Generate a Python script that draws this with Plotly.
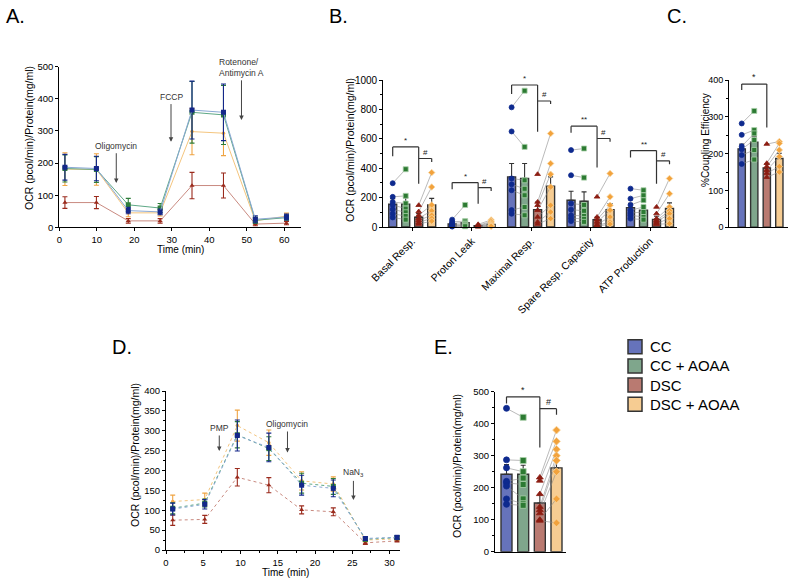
import plotly.graph_objects as go

W, H = 790, 580
FONT = "Liberation Sans, Arial, Helvetica, sans-serif"

# ---------------- shared styling ----------------
groups = ["CC", "CC + AOAA", "DSC", "DSC + AOAA"]
bar_fill = ["#6673BB", "#7FA68C", "#B97A71", "#F6CC92"]
point_fill = ["#0E2A8E", "#2C7A32", "#8C1D12", "#F2A23C"]
point_edge = ["#0E2A8E", "#A9D0AA", "#8C1D12", "#F8D59F"]
point_symbol = ["circle", "square", "triangle-up", "diamond"]
trace_line = ["#8AA8D4", "#5EA886", "#C98A80", "#F4C57E"]
err_color = ["#14278A", "#2E7D3A", "#9A2A1C", "#EFA443"]
ts_symbol = ["square", "square", "triangle-up", "circle"]
ts_size = [5, 5, 4.5, 3.5]

# ---------------- Panel A (time course) ----------------
a_time = [1.5, 9.9, 18.4, 26.9, 35.4, 43.8, 52.3, 60.6]
a_cc = [187, 183, 52, 48, 365, 358, 25, 32]
a_cc_err = [40, 38, 10, 9, 90, 88, 11, 9]
a_cca = [183, 180, 70, 60, 358, 350, 22, 30]
a_cca_err = [42, 40, 20, 14, 96, 92, 10, 8]
a_dsc = [77, 77, 20, 20, 130, 130, 10, 13]
a_dsc_err = [18, 19, 7, 7, 41, 39, 5, 5]
a_dsca = [181, 180, 45, 45, 298, 293, 20, 35]
a_dsca_err = [51, 49, 12, 10, 72, 70, 10, 9]

# ---------------- Panel B (respiration parameters) ----------------
b_categories = ["Basal Resp.", "Proton Leak", "Maximal Resp.", "Spare Resp. Capacity", "ATP Production"]
b_cc_mean = [155, 20, 341, 182, 132]
b_cca_mean = [155, 30, 330, 175, 114]
b_dsc_mean = [66, 9, 118, 50, 52]
b_dsca_mean = [150, 18, 277, 118, 127]
b_cc_sem = [38, 8, 91, 61, 30]
b_cca_sem = [45, 18, 102, 64, 34]
b_dsc_sem = [25, 3, 52, 18, 21]
b_dsca_sem = [45, 7, 64, 41, 37]
b_cc_pts = [[298, 205, 170, 150, 120, 90, 65],
            [50, 35, 25, 15, 8, 5, 3],
            [814, 650, 330, 290, 250, 115, 90],
            [523, 352, 160, 118, 80, 60, 40],
            [261, 193, 150, 114, 95, 80, 57]]
b_cca_pts = [[393, 212, 160, 125, 100, 75, 50],
             [150, 40, 30, 20, 12, 8, 5],
             [927, 545, 318, 260, 216, 136, 80],
             [534, 336, 150, 110, 75, 55, 35],
             [250, 215, 182, 136, 102, 68, 50]]
b_dsc_pts = [[148, 105, 80, 60, 45, 30, 20],
             [18, 10, 8, 5, 4, 3, 2],
             [359, 170, 148, 114, 68, 34, 20],
             [205, 68, 50, 34, 18, 10, 5],
             [136, 91, 57, 45, 34, 25, 18]]
b_dsca_pts = [[370, 272, 150, 110, 80, 60, 40],
              [48, 38, 28, 20, 12, 8, 5],
              [636, 432, 359, 272, 148, 102, 57],
              [364, 205, 148, 114, 68, 34, 20],
              [330, 227, 136, 110, 91, 57, 23]]
# significance brackets: (category, left bar, right bar, top, left end, right end, label)
b_brackets = [(0, 0, 2, 545, 482, 295, "*"), (0, 2, 3, 466, 466, 443, "#"),
              (1, 0, 2, 302, 257, 159, "*"), (1, 2, 3, 268, 268, 245, "#"),
              (2, 0, 2, 966, 905, 648, "*"), (2, 2, 3, 857, 857, 836, "#"),
              (3, 0, 2, 686, 641, 405, "**"), (3, 2, 3, 602, 602, 580, "#"),
              (4, 0, 2, 520, 473, 295, "**"), (4, 2, 3, 450, 450, 427, "#")]

# ---------------- Panel C (coupling efficiency) ----------------
c_mean = [213, 231, 161, 187]
c_sem = [13, 15, 11, 14]
c_cc_pts = [282, 251, 220, 212, 196, 172]
c_cca_pts = [316, 264, 255, 237, 210, 184]
c_dsc_pts = [226, 174, 165, 155, 147, 136]
c_dsca_pts = [233, 228, 210, 192, 165, 150]
c_brackets = [(0, 2, 389, 373, 271, "*")]

# ---------------- Panel D (time course) ----------------
d_time = [0.9, 5.2, 9.57, 13.8, 18.2, 22.45, 26.75, 31.0]
d_cc = [103, 115, 288, 258, 163, 155, 29, 32]
d_cc_err = [15, 12, 39, 36, 25, 21, 5, 4]
d_cca = [105, 118, 290, 255, 168, 160, 27, 31]
d_cca_err = [14, 10, 33, 30, 25, 20, 5, 4]
d_dsc = [75, 77, 183, 163, 101, 96, 18, 23]
d_dsc_err = [13, 10, 22, 19, 10, 10, 4, 3]
d_dsca = [122, 127, 313, 270, 174, 166, 25, 28]
d_dsca_err = [16, 16, 39, 32, 23, 18, 5, 4]

# ---------------- Panel E ----------------
e_mean = [242, 242, 152, 262]
e_sem = [30, 28, 25, 35]
e_cc_pts = [448, 287, 262, 220, 215, 205, 165, 148]
e_cca_pts = [420, 285, 250, 230, 210, 165, 150, 145]
e_dsc_pts = [232, 222, 180, 140, 130, 120, 100, 97]
e_dsca_pts = [380, 345, 320, 300, 285, 250, 165, 90]
e_brackets = [(0, 2, 484, 463, 326, "*"), (2, 3, 447, 447, 428, "#")]


def px(x):
    return x / W


def py(y):
    return 1 - y / H


fig = go.Figure()

# ---------- time-course panels ----------
def time_course(xa, ya, t, series, errs, dash):
    for k in [3, 2, 1, 0]:
        fig.add_trace(go.Scatter(
            x=t, y=series[k], xaxis=xa, yaxis=ya, mode="lines+markers",
            line=dict(color=trace_line[k], width=1, dash=dash),
            marker=dict(symbol=ts_symbol[k], size=ts_size[k], color=err_color[k]),
            error_y=dict(type="data", array=errs[k], color=err_color[k], thickness=1.1, width=2.5),
            showlegend=False, hoverinfo="skip"))


time_course("x", "y", a_time, [a_cc, a_cca, a_dsc, a_dsca],
            [a_cc_err, a_cca_err, a_dsc_err, a_dsca_err], "solid")
time_course("x4", "y4", d_time, [d_cc, d_cca, d_dsc, d_dsca],
            [d_cc_err, d_cca_err, d_dsc_err, d_dsca_err], "dot")

# ---------- bar panels ----------
def bar_panel(xa, ya, pos, ncat, width, means, sems, pts, msize):
    for k in range(4):
        fig.add_trace(go.Bar(
            x=[pos(i, k) for i in range(ncat)], y=means[k], width=width,
            xaxis=xa, yaxis=ya,
            marker=dict(color=bar_fill[k], line=dict(color="#333333", width=1.4)),
            error_y=dict(type="data", symmetric=False, array=sems[k],
                         arrayminus=[0] * ncat, color="#333333", thickness=1.1, width=2.5),
            showlegend=False, hoverinfo="skip"))
    for a, b in [(0, 1), (2, 3)]:
        xs, ys = [], []
        for i in range(ncat):
            for va, vb in zip(pts[a][i], pts[b][i]):
                xs += [pos(i, a), pos(i, b), None]
                ys += [va, vb, None]
        fig.add_trace(go.Scatter(x=xs, y=ys, xaxis=xa, yaxis=ya, mode="lines",
                                 line=dict(color="#8C8C8C", width=0.6),
                                 showlegend=False, hoverinfo="skip"))
    for k in range(4):
        xs, ys = [], []
        for i in range(ncat):
            xs += [pos(i, k)] * len(pts[k][i])
            ys += pts[k][i]
        fig.add_trace(go.Scatter(
            x=xs, y=ys, xaxis=xa, yaxis=ya, mode="markers",
            marker=dict(symbol=point_symbol[k], size=msize, color=point_fill[k],
                        line=dict(color=point_edge[k], width=0.8)),
            showlegend=False, hoverinfo="skip", cliponaxis=False))


B_OFF = 13 / 59.45
b_pos = lambda i, k: i + (k - 1.5) * B_OFF
single_pos = lambda i, k: k

bar_panel("x2", "y2", b_pos, 5, 0.1346,
          [b_cc_mean, b_cca_mean, b_dsc_mean, b_dsca_mean],
          [b_cc_sem, b_cca_sem, b_dsc_sem, b_dsca_sem],
          [b_cc_pts, b_cca_pts, b_dsc_pts, b_dsca_pts], 5)
bar_panel("x3", "y3", single_pos, 1, 0.58,
          [[v] for v in c_mean], [[v] for v in c_sem],
          [[c_cc_pts], [c_cca_pts], [c_dsc_pts], [c_dsca_pts]], 5)
bar_panel("x5", "y5", single_pos, 1, 0.66,
          [[v] for v in e_mean], [[v] for v in e_sem],
          [[e_cc_pts], [e_cca_pts], [e_dsc_pts], [e_dsca_pts]], 6)

shapes = []
annotations = []


def add_brackets(xr, yr, specs, pos, lab_size):
    for (cat, kl, kr, top, lend, rend, lab) in specs:
        xl, xr_ = pos(cat, kl), pos(cat, kr)
        line = dict(color="#333333", width=1.2)
        shapes.append(dict(type="line", xref=xr, yref=yr, x0=xl, x1=xr_, y0=top, y1=top, line=line))
        if lend != top:
            shapes.append(dict(type="line", xref=xr, yref=yr, x0=xl, x1=xl, y0=top, y1=lend, line=line))
        shapes.append(dict(type="line", xref=xr, yref=yr, x0=xr_, x1=xr_, y0=top, y1=rend, line=line))
        annotations.append(dict(x=(xl + xr_) / 2, y=top, xref=xr, yref=yr, text=lab,
                                showarrow=False, yanchor="bottom", yshift=0,
                                font=dict(size=lab_size, color="#222", family=FONT)))


add_brackets("x2", "y2", b_brackets, b_pos, 8)
add_brackets("x3", "y3", [(0,) + s for s in c_brackets], single_pos, 9)
add_brackets("x5", "y5", [(0,) + s for s in e_brackets], single_pos, 9)

# ---------- treatment labels with arrows ----------
def arrow_note(xr, yr, x, ytext, ytip, txt):
    annotations.append(dict(x=x, y=ytip, ax=x, ay=ytext, xref=xr, yref=yr, axref=xr, ayref=yr,
                            text=txt, showarrow=True, arrowhead=2, arrowsize=0.9,
                            arrowwidth=1, arrowcolor="#444444", borderpad=2, align="left",
                            font=dict(size=8.5, color="#333", family=FONT)))


arrow_note("x", "y", 15.2, 254, 138, "Oligomycin")
arrow_note("x", "y", 29.8, 407, 266, "FCCP")
arrow_note("x", "y", 48.6, 498, 334, "Rotenone/<br>Antimycin A")

arrow_note("x4", "y4", 7.15, 307, 249, "PMP")
arrow_note("x4", "y4", 16.3, 317, 245, "Oligomycin")
arrow_note("x4", "y4", 25.15, 194, 126, "NaN<sub>3</sub>")

# ---------- titles & panel letters ----------
def ptext(x, y, txt, size, angle=0):
    annotations.append(dict(x=px(x), y=py(y), xref="paper", yref="paper", text=txt,
                            showarrow=False, textangle=angle, xanchor="center", yanchor="middle",
                            font=dict(size=size, color="black", family=FONT)))


ocr = "OCR (pcol/min)/Protein(mg/ml)"
ptext(29, 138, ocr, 10.5, -90)
ptext(350, 150, ocr, 10.5, -90)
ptext(705, 140, "%Coupling Efficiency", 10, -90)
ptext(135, 455, ocr, 10.5, -90)
ptext(457, 466, ocr, 10.5, -90)
ptext(180, 250, "Time (min)", 10)
ptext(285, 572, "Time (min)", 10)
for lab, x, y in [("A.", 15, 16), ("B.", 338, 16), ("C.", 677, 16), ("D.", 122, 347), ("E.", 443, 347)]:
    ptext(x, y, lab, 20)

# ---------- legend (drawn) ----------
for k, name in enumerate(groups):
    yc = 346.7 + k * 19.2
    shapes.append(dict(type="rect", xref="paper", yref="paper",
                       x0=px(628), x1=px(642), y0=py(yc + 7), y1=py(yc - 7),
                       fillcolor=bar_fill[k], line=dict(color="#333333", width=1.5)))
    annotations.append(dict(x=px(648), y=py(yc), xref="paper", yref="paper", text=name,
                            showarrow=False, xanchor="left", yanchor="middle",
                            font=dict(size=15, color="black", family=FONT)))

# ---------- axes ----------
def ax(domain, rng, anchor, fs=9.5, **kw):
    d = dict(domain=domain, range=rng, anchor=anchor, showline=True, linecolor="black",
             linewidth=1.2, ticks="outside", ticklen=3, tickwidth=1, tickcolor="black",
             showgrid=False, zeroline=False, automargin=False,
             tickfont=dict(size=fs, color="black", family=FONT))
    d.update(kw)
    return d


minor = lambda dt: dict(dtick=dt, ticks="outside", ticklen=2, tickcolor="black", showgrid=False)

fig.update_layout(
    width=W, height=H, margin=dict(l=0, r=0, t=0, b=0, autoexpand=False),
    paper_bgcolor="white", plot_bgcolor="white", barmode="overlay",
    font=dict(family=FONT),
    xaxis=ax([px(59.3), px(300.7)], [0, 64.4], "y", dtick=10, tick0=0),
    yaxis=ax([py(227.3), py(66.7)], [0, 500], "x", dtick=100),
    xaxis2=ax([px(383.3), px(677)], [-0.486, 4.454], "y2", fs=10.5, tickvals=list(range(5)),
              ticktext=b_categories, tickangle=-45),
    yaxis2=ax([py(227), py(80)], [0, 1000], "x2", fs=10, dtick=200, minor=minor(100)),
    xaxis3=ax([px(729.3), px(788)], [-0.99, 3.69], "y3", showticklabels=False, ticks=""),
    yaxis3=ax([py(227.3), py(80)], [0, 400], "x3", fs=9, dtick=100, minor=minor(50)),
    xaxis4=ax([px(166), px(400)], [0, 31.4], "y4", dtick=5, tick0=0, minor=minor(2.5)),
    yaxis4=ax([py(550), py(391)], [0, 400], "x4", dtick=50, minor=minor(25)),
    xaxis5=ax([px(495), px(566)], [-0.69, 3.57], "y5", showticklabels=False, ticks=""),
    yaxis5=ax([py(551.7), py(391.7)], [0, 500], "x5", dtick=100, minor=minor(50)),
    shapes=shapes, annotations=annotations,
)

fig.write_html("out.html", config={"displayModeBar": False},
               post_script="document.body.style.margin='0';document.body.style.overflow='hidden';")
